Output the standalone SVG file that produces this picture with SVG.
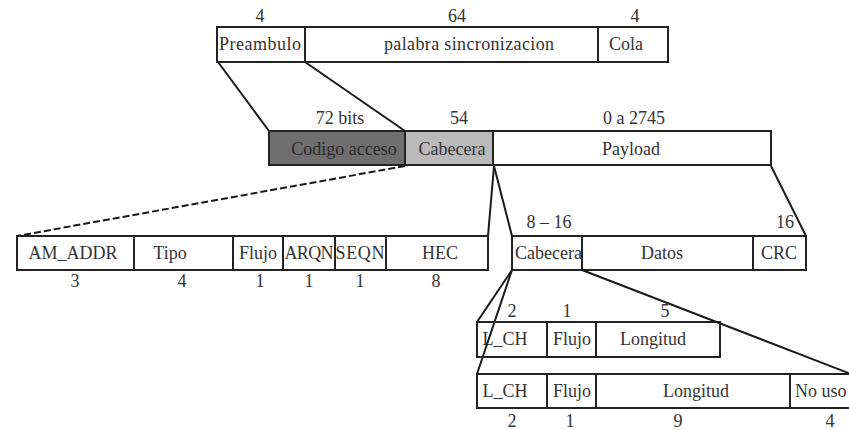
<svg xmlns="http://www.w3.org/2000/svg" width="849" height="430" viewBox="0 0 849 430">
  <style>
    .box { fill: #ffffff; stroke: #222; stroke-width: 2; }
    .div { stroke: #222; stroke-width: 2; }
    .t { font-family: "Liberation Serif", "Times New Roman", serif; font-size: 18px; fill: #333; text-anchor: middle; }
    .ts { text-anchor: start; }
    .link { stroke: #1a1a1a; stroke-width: 2; fill: none; }
    .dash { stroke-dasharray: 7 3; }
  </style>
  <rect width="849" height="430" fill="#ffffff"/>

  <!-- access code: preamble / sync word / trailer -->
  <g id="access-code">
    <rect class="box" x="217" y="27" width="451" height="35"/>
    <line class="div" x1="305" y1="27" x2="305" y2="62"/>
    <line class="div" x1="598" y1="27" x2="598" y2="62"/>
    <text class="t" x="260" y="22">4</text>
    <text class="t" x="457" y="22">64</text>
    <text class="t" x="635" y="22">4</text>
    <text class="t" x="260" y="50" textLength="82">Preambulo</text>
    <text class="t" x="469" y="50" textLength="170">palabra sincronizacion</text>
    <text class="t" x="626" y="50">Cola</text>
  </g>

  <!-- packet: access code / header / payload -->
  <g id="packet">
    <rect x="269" y="131" width="136" height="34" fill="#6f6f6f" stroke="#222" stroke-width="2"/>
    <rect x="405" y="131" width="88" height="34" fill="#bababa" stroke="#222" stroke-width="2"/>
    <rect class="box" x="493" y="131" width="278" height="34"/>
    <text class="t" x="340" y="124">72 bits</text>
    <text class="t" x="459" y="124">54</text>
    <text class="t" x="634" y="124">0 a 2745</text>
    <text class="t" x="344" y="155" style="fill:#2a2a2a">Codigo acceso</text>
    <text class="t" x="452" y="155">Cabecera</text>
    <text class="t" x="631" y="155">Payload</text>
  </g>

  <!-- packet header fields -->
  <g id="header">
    <rect class="box" x="17" y="236" width="471" height="34"/>
    <line class="div" x1="134" y1="236" x2="134" y2="270"/>
    <line class="div" x1="233" y1="236" x2="233" y2="270"/>
    <line class="div" x1="283" y1="236" x2="283" y2="270"/>
    <line class="div" x1="335" y1="236" x2="335" y2="270"/>
    <line class="div" x1="386" y1="236" x2="386" y2="270"/>
    <text class="t" x="73" y="259">AM_ADDR</text>
    <text class="t" x="170" y="259">Tipo</text>
    <text class="t" x="258" y="259">Flujo</text>
    <text class="t" x="309" y="259" textLength="49">ARQN</text>
    <text class="t" x="360" y="259" textLength="49">SEQN</text>
    <text class="t" x="440" y="259">HEC</text>
    <text class="t" x="75" y="287">3</text>
    <text class="t" x="182" y="287">4</text>
    <text class="t" x="260" y="287">1</text>
    <text class="t" x="309" y="287">1</text>
    <text class="t" x="360" y="287">1</text>
    <text class="t" x="436" y="287">8</text>
  </g>

  <!-- payload fields -->
  <g id="payload">
    <rect class="box" x="512" y="236" width="294" height="34"/>
    <line class="div" x1="582" y1="236" x2="582" y2="270"/>
    <line class="div" x1="753" y1="236" x2="753" y2="270"/>
    <text class="t" x="549" y="228">8 – 16</text>
    <text class="t" x="785" y="228">16</text>
    <text class="t ts" x="515" y="259">Cabecera</text>
    <text class="t" x="662" y="259">Datos</text>
    <text class="t" x="779" y="259">CRC</text>
  </g>

  <!-- payload header, single-slot -->
  <g id="payload-header-short">
    <rect class="box" x="477" y="322" width="243" height="35"/>
    <line class="div" x1="547" y1="322" x2="547" y2="357"/>
    <line class="div" x1="596" y1="322" x2="596" y2="357"/>
    <text class="t" x="512" y="317">2</text>
    <text class="t" x="567" y="317">1</text>
    <text class="t" x="665" y="317">5</text>
    <text class="t" x="505" y="345">L_CH</text>
    <text class="t" x="572" y="345">Flujo</text>
    <text class="t" x="653" y="345">Longitud</text>
  </g>

  <!-- payload header, multi-slot -->
  <g id="payload-header-long">
    <rect class="box" x="477" y="374" width="380" height="34"/>
    <line class="div" x1="547" y1="374" x2="547" y2="408"/>
    <line class="div" x1="596" y1="374" x2="596" y2="408"/>
    <line class="div" x1="790" y1="374" x2="790" y2="408"/>
    <text class="t" x="505" y="397">L_CH</text>
    <text class="t" x="572" y="397">Flujo</text>
    <text class="t" x="696" y="397">Longitud</text>
    <text class="t ts" x="795" y="397">No uso</text>
    <text class="t" x="512" y="427">2</text>
    <text class="t" x="570" y="427">1</text>
    <text class="t" x="678" y="427">9</text>
    <text class="t" x="830" y="427">4</text>
  </g>

  <!-- expansion lines -->
  <g id="connectors">
    <line class="link" x1="218" y1="62" x2="269" y2="131"/>
    <line class="link" x1="305" y1="62" x2="405" y2="131"/>
    <line class="link dash" x1="405" y1="166" x2="17" y2="236"/>
    <line class="link" x1="494" y1="166" x2="488" y2="236"/>
    <line class="link" x1="494" y1="166" x2="512" y2="236"/>
    <line class="link" x1="771" y1="166" x2="806" y2="236"/>
    <line class="link" x1="512" y1="270" x2="477" y2="322"/>
    <line class="link" x1="512" y1="270" x2="477" y2="374"/>
    <line class="link" x1="582" y1="270" x2="851" y2="374"/>
  </g>
</svg>
